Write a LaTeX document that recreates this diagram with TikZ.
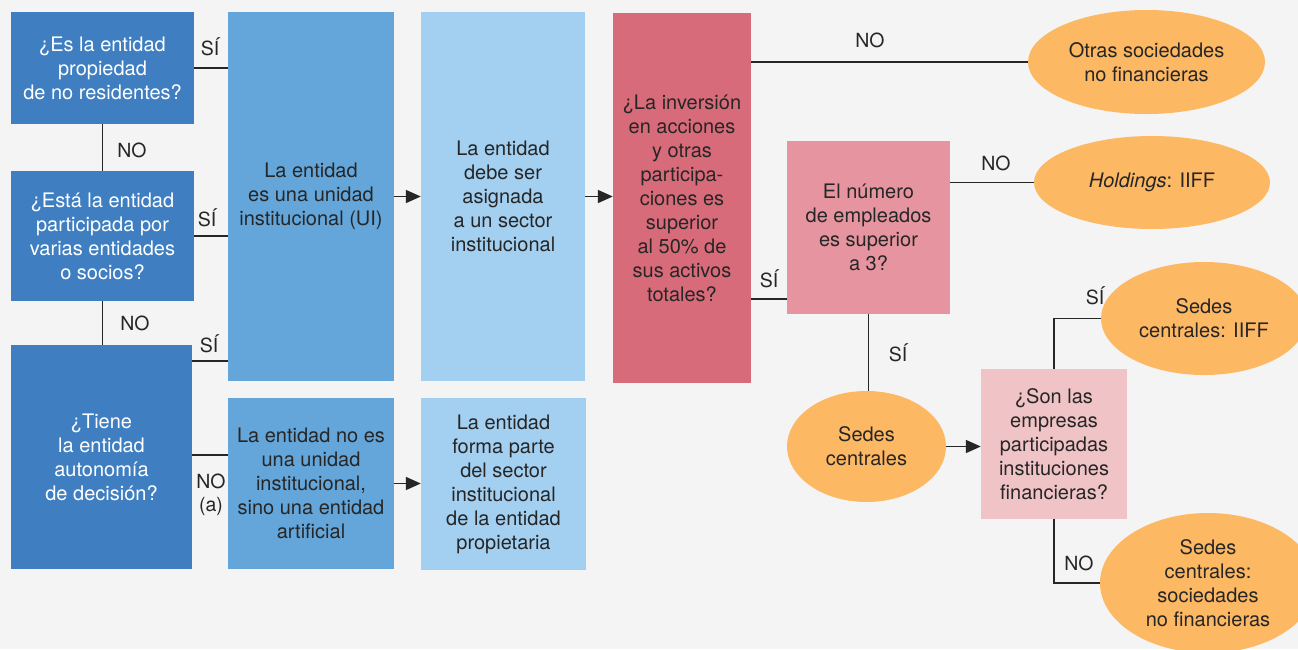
\documentclass[tikz,border=0pt]{standalone}
\usepackage{fontspec}
\setmainfont{TeX Gyre Heros}
\usetikzlibrary{arrows.meta,shapes.geometric,calc}
\definecolor{bg}{HTML}{F4F4F4}
\definecolor{dblue}{HTML}{3F7FC1}
\definecolor{mblue}{HTML}{64A6DA}
\definecolor{lblue}{HTML}{A3CFF0}
\definecolor{redq}{HTML}{D86B7A}
\definecolor{pinkq}{HTML}{E695A0}
\definecolor{lpink}{HTML}{F0C4C7}
\definecolor{orng}{HTML}{FDB863}
\definecolor{ink}{HTML}{262626}
\begin{document}
\begin{tikzpicture}[x=1pt,y=-1pt,
  every node/.style={font=\fontsize{20}{24}\selectfont, text=ink},
  boxq/.style={rectangle, inner sep=0pt, align=center, minimum width=#1},
  ell/.style={ellipse, inner sep=0pt, align=center, fill=orng},
  lbl/.style={font=\fontsize{19.5}{23}\selectfont, text=ink, align=center},
  conn/.style={draw=ink, line width=1.7pt},
  arr/.style={conn, arrows={-Triangle[length=15pt,width=13pt]}}]
\fill[bg] (0,0) rectangle (1298,649);
\useasboundingbox (0,0) rectangle (1298,649);
\clip (0,0) rectangle (1298,649);
% question boxes
\node[boxq=183pt, minimum height=112pt, fill=dblue, text=white] (A) at (102.5,68) {¿Es la entidad\\propiedad\\de no residentes?};
\node[boxq=183pt, minimum height=130pt, fill=dblue, text=white] (B) at (102.5,236) {¿Está la entidad\\participada por\\varias entidades\\o socios?};
\node[boxq=181pt, minimum height=224pt, fill=dblue, text=white] (C) at (101.5,457) {¿Tiene\\la entidad\\autonomía\\de decisión?};
\node[boxq=166pt, minimum height=369pt, fill=mblue] (UI) at (311,196.5) {La entidad\\es una unidad\\institucional (UI)};
\node[boxq=164pt, minimum height=369pt, fill=lblue] (ASG) at (503,196.5) {La entidad\\debe ser\\asignada\\a un sector\\institucional};
\node[boxq=166pt, minimum height=171pt, fill=mblue] (NOES) at (311,483.5) {La entidad no es\\una unidad\\institucional,\\sino una entidad\\artificial};
\node[boxq=165pt, minimum height=172pt, fill=lblue] (FORMA) at (503.5,484) {La entidad\\forma parte\\del sector\\institucional\\de la entidad\\propietaria};
\node[boxq=138pt, minimum height=370pt, fill=redq] (RED) at (682,198) {¿La inversión\\en acciones\\y otras\\participa-\\ciones es\\superior\\al 50\% de\\sus activos\\totales?};
\node[boxq=163pt, minimum height=173pt, fill=pinkq] (NUM) at (868.5,227.5) {El número\\de empleados\\es superior\\a 3?};
\node[boxq=146pt, minimum height=150pt, fill=lpink] (SON) at (1054,444) {¿Son las\\empresas\\participadas\\instituciones\\financieras?};
% outcomes
\node[ell, minimum width=237pt, minimum height=104pt] (OTRAS) at (1146.5,62) {Otras sociedades\\no financieras};
\node[ell, minimum width=236pt, minimum height=93pt] (HOLD) at (1152,182.5) {\textit{Holdings}: IIFF};
\node[ell, minimum width=159pt, minimum height=111pt] (SEDES) at (866.5,446.5) {Sedes\\centrales};
\node[ell, minimum width=206pt, minimum height=113pt] (SIIFF) at (1204,318.5) {Sedes\\centrales: IIFF};
\node[ell, minimum width=216pt, minimum height=140pt] (SSOC) at (1208,583) {Sedes\\centrales:\\sociedades\\no financieras};
% connectors
\draw[conn] (A.east) -- (A.east -| UI.west);
\draw[conn] (A.south) -- (B.north);
\draw[conn] (B.east) -- (B.east -| UI.west);
\draw[conn] (B.south) -- (B.south |- C.north);
\coordinate (Cs) at ([yshift=-16pt]C.north east);
\draw[conn] (Cs) -- (Cs -| UI.west);
\draw[conn] ([yshift=2pt]C.east) -- ([yshift=2pt]C.east -| NOES.west);
\draw[arr] (UI.east) -- (UI.east -| ASG.west);
\draw[arr] (NOES.east) -- (NOES.east -| FORMA.west);
\draw[arr] (ASG.east) -- (ASG.east -| RED.west);
\draw[conn] (RED.east |- OTRAS.west) -- (OTRAS.west);
\coordinate (Nl) at ([yshift=15pt]NUM.south west);
\draw[conn] (RED.east |- Nl) -- (Nl);
\draw[conn] (NUM.east |- HOLD.west) -- (HOLD.west);
\draw[conn] (NUM.south) -- (NUM.south |- SEDES.north);
\draw[arr] (SEDES.east) -- (SEDES.east -| SON.west);
\draw[conn] (SON.north) |- (SIIFF.west);
\draw[conn] (SON.south) |- (SSOC.west);
% labels
\node[lbl] (l1) at (210,47) {SÍ};
\node[lbl] (l2) at (132,150) {NO};
\node[lbl] (l3) at (207,218) {SÍ};
\node[lbl] (l4) at (135,323) {NO};
\node[lbl] (l5) at (209,344) {SÍ};
\node[lbl] (l6) at (211,495) {NO\\(a)};
\node[lbl] (l7) at (870,40) {NO};
\node[lbl] (l8) at (769,279) {SÍ};
\node[lbl] (l9) at (996,163) {NO};
\node[lbl] (l10) at (898,353) {SÍ};
\node[lbl] (l11) at (1095,296) {SÍ};
\node[lbl] (l12) at (1079,563) {NO};
\end{tikzpicture}
\end{document}
